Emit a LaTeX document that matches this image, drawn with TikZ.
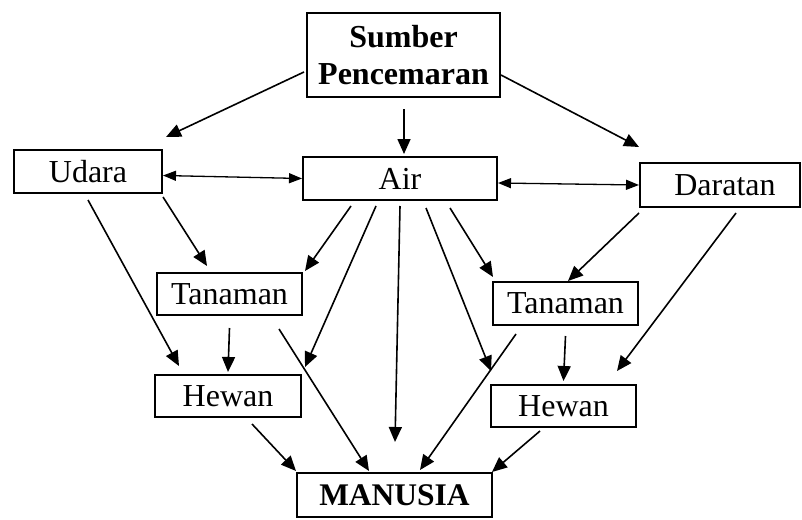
\documentclass[tikz,border=0pt]{standalone}
\usepackage{fontspec}
\setmainfont{Liberation Serif}
\usetikzlibrary{arrows.meta}
\begin{document}
\begin{tikzpicture}[x=1pt,y=-1pt,
  box/.style={draw=black,line width=2pt,fill=white,inner sep=0pt,
    font=\fontsize{32}{37}\selectfont,align=center},
  arr/.style={line width=1.6pt,-{Triangle[length=15pt,width=13pt]}},
  darr/.style={line width=1.3pt,{Triangle[length=13pt,width=10pt]}-{Triangle[length=13pt,width=10pt]}}]
\useasboundingbox (0,0) rectangle (802,519);
\node[box,minimum width=193pt,minimum height=84pt,font=\fontsize{32}{37}\selectfont\bfseries] (S) at (403.5,55) {Sumber\\Pencemaran};
\node[box,minimum width=148pt,minimum height=43pt] (U) at (88,171.5) {Udara};
\node[box,minimum width=194pt,minimum height=43pt] (A) at (400,178.5) {Air};
\node[box,minimum width=160pt,minimum height=44pt,text width=150pt] (D) at (720,185) {\hspace*{10pt}Daratan};
\node[box,minimum width=145pt,minimum height=42pt] (TL) at (229.5,294) {Tanaman};
\node[box,minimum width=146pt,minimum height=42pt] (HL) at (228,396) {Hewan};
\node[box,minimum width=145pt,minimum height=43pt] (TR) at (565.5,303.5) {Tanaman};
\node[box,minimum width=145pt,minimum height=42pt] (HR) at (563.5,406) {Hewan};
\node[box,minimum width=195pt,minimum height=44pt,font=\fontsize{31.5}{36}\selectfont\bfseries] (M) at (394.5,495) {MANUSIA};
% from Sumber
\draw[arr] ([xshift=-2pt,yshift=-17pt]S.west) -- ([xshift=3pt,yshift=12pt]U.north east);
\draw[arr] ([xshift=0.5pt,yshift=-11pt]S.south) -- ([xshift=4pt,yshift=2pt]A.north);
\draw[arr] ([yshift=-20pt]S.east) -- ([yshift=15pt]D.north west);
% double arrows
\draw[darr] ([yshift=-4pt]U.east) -- (A.west);
\draw[darr] ([yshift=-4.5pt]A.east) -- (D.west);
% from Udara
\draw[arr] ([yshift=-3pt]U.south east) -- ([xshift=51pt,yshift=6pt]TL.north west);
\draw[arr] ([yshift=-6pt]U.south) -- ([xshift=25pt,yshift=8pt]HL.north west);
% from Air
\draw[arr] ([xshift=49pt,yshift=-5pt]A.south west) -- ([xshift=2pt,yshift=1pt]TL.north east);
\draw[arr] ([xshift=74pt,yshift=-5pt]A.south west) -- ([xshift=3pt,yshift=7pt]HL.north east);
\draw[arr] ([yshift=-5pt]A.south) -- ([xshift=0.5pt,yshift=30pt]M.north);
\draw[arr] ([xshift=-48pt,yshift=-7pt]A.south east) -- ([xshift=1pt,yshift=4pt]TR.north west);
\draw[arr] ([xshift=-72pt,yshift=-7pt]A.south east) -- ([xshift=1pt,yshift=13pt]HR.north west);
% from Daratan
\draw[arr] ([yshift=-5pt]D.south west) -- ([xshift=2.5pt]TR.north);
\draw[arr] ([xshift=97pt,yshift=-5pt]D.south west) -- ([xshift=-20pt,yshift=13pt]HR.north east);
% Tanaman -> Hewan
\draw[arr] ([yshift=-12pt]TL.south) -- ([yshift=2pt]HL.north);
\draw[arr] ([yshift=-10pt]TR.south) -- ([yshift=3pt]HR.north);
% to Manusia
\draw[arr] ([xshift=-24pt,yshift=-13pt]TL.south east) -- ([xshift=73pt,yshift=1pt]M.north west);
\draw[arr] ([xshift=24pt,yshift=-6pt]HL.south) -- ([yshift=1pt]M.north west);
\draw[arr] ([xshift=24pt,yshift=-8pt]TR.south west) -- ([xshift=25.5pt,yshift=2pt]M.north);
\draw[arr] ([xshift=-23.5pt,yshift=-3pt]HR.south) -- ([xshift=-1pt]M.north east);
\end{tikzpicture}
\end{document}
